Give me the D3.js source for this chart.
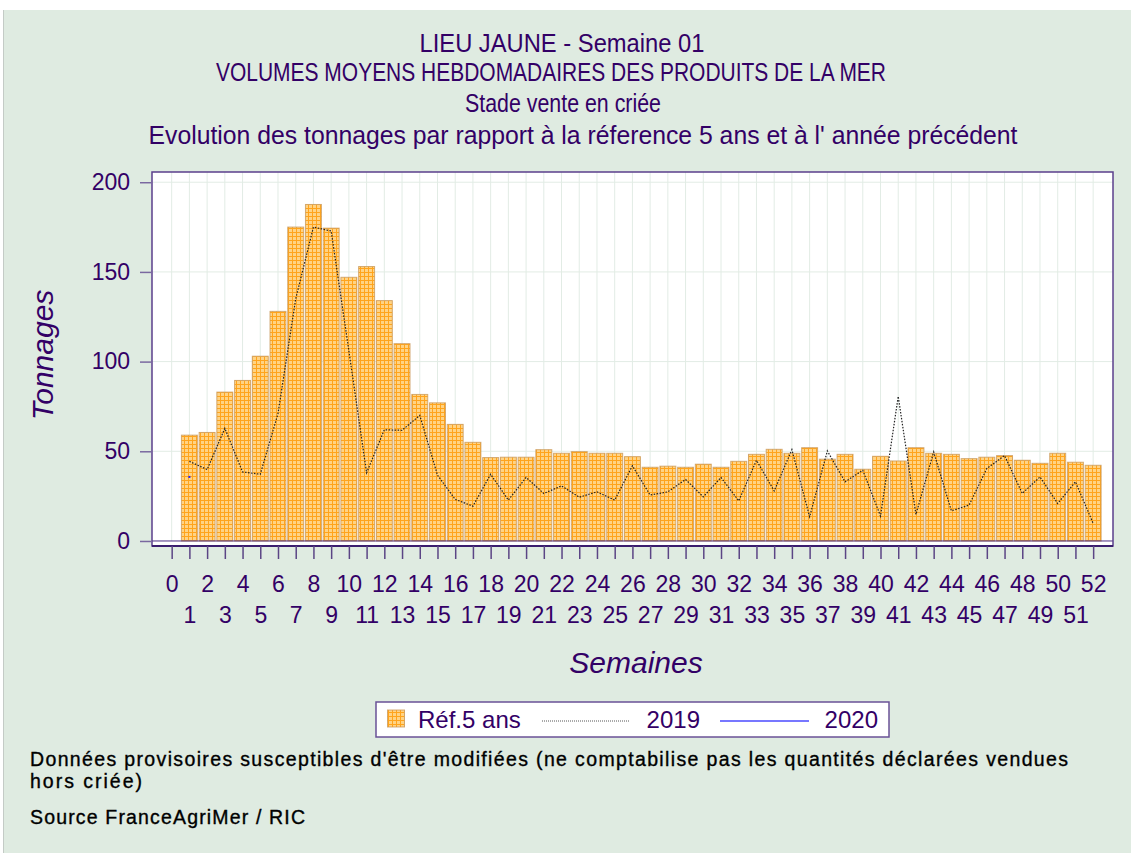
<!DOCTYPE html>
<html lang="fr">
<head>
<meta charset="UTF-8">
<title>Lieu jaune - Semaine 01</title>
<style>
    body { margin: 0; background: #fff; }
    text { font-family: "Liberation Sans", Arial, sans-serif; }
    .title { fill: #330066; font-size: 25px; text-anchor: middle; }
    .axis text { fill: #330066; font-size: 23px; }
    .axis-title { fill: #330066; font-size: 30px; font-style: italic; }
    .legend-text { fill: #330066; font-size: 24px; }
    .note { fill: #000; font-size: 19.5px; stroke: #000; stroke-width: 0.35px; }
</style>
</head>
<body>
<script src="https://d3js.org/d3.v7.min.js"></script>
<script>
    // semaines 1..52
    const weeks = d3.range(1, 53);
    const xTicks = d3.range(0, 53);
    const yTicks = [0, 50, 100, 150, 200];

    // reference 5 ans (barres)
    const ref5 = [59, 60.5, 83, 89.5, 103, 128, 175, 187.6, 174.4, 147,
        153, 134, 110, 81.7, 77, 65, 55, 46.5, 46.7, 46.7,
        50.9, 48.9, 49.8, 48.9, 48.9, 47, 41.1, 41.7, 41.1, 42.8,
        41.1, 44.4, 48.3, 51.1, 48.9, 52, 45.6, 48.3, 40, 47.2,
        44.6, 52, 48.9, 48.3, 45.9, 46.7, 47.6, 45, 43.3, 48.9, 43.9, 42.2];

    // annee 2019 (pointilles)
    const y2019 = [44.4, 39.8, 62.8, 38.5, 37.2, 71, 135, 175, 172.8, 106,
        38, 62, 61.7, 70, 36.7, 23.2, 19.4, 37.2, 22.8, 35.4,
        26.5, 30.7, 24.4, 27.4, 22.8, 41.9, 25.6, 27.4, 34.3, 24.6,
        35.4, 22.4, 45, 27.9, 50.9, 13.5, 50.2, 33, 39.4, 13.9,
        80.6, 14.8, 49.6, 16.8, 20, 40.4, 47.6, 26.5, 35.7, 20.9, 33, 9.8];

    // annee 2020 (une seule semaine)
    const y2020 = [35.7];

    const titles = [
        "LIEU JAUNE - Semaine 01",
        "VOLUMES MOYENS HEBDOMADAIRES DES PRODUITS DE LA MER",
        "Stade vente en criée",
        "Evolution des tonnages par rapport à la réference 5 ans et à l' année précédent"
    ];

    const notes = [
        "Données provisoires susceptibles d'être modifiées (ne comptabilise pas les quantités déclarées vendues",
        "hors criée)",
        "Source FranceAgriMer / RIC"
    ];

    const width = 1131, height = 853;
    const plot = { left: 152, right: 1113, top: 172, bottom: 546 };

    const svg = d3.select("body").append("svg")
        .attr("width", width)
        .attr("height", height);

    // fond
    svg.append("rect")
        .attr("x", 4).attr("y", 10)
        .attr("width", width - 4).attr("height", height - 10)
        .attr("fill", "#dfebe1");
    svg.append("line")
        .attr("x1", 3.5).attr("x2", 3.5).attr("y1", 10).attr("y2", height)
        .attr("stroke", "#c4cbc6");

    // motif quadrille des barres
    const pat = svg.append("defs").append("pattern")
        .attr("id", "grille")
        .attr("patternUnits", "userSpaceOnUse")
        .attr("width", 4).attr("height", 4);
    pat.append("rect").attr("width", 4).attr("height", 4).attr("fill", "#ffd384");
    pat.append("path")
        .attr("d", "M0 0.5H4M0.5 0V4")
        .attr("stroke", "#ffa41c")
        .attr("stroke-width", 1);

    const x = d3.scaleLinear().domain([-1.11, 53.12]).range([plot.left, plot.right]);
    const y = d3.scaleLinear().domain([-2.8, 205.7]).range([plot.bottom, plot.top]);

    // titres
    const titleY = [52, 81, 112, 144];
    const titleX = [562, 551, 563, 583];
    const titleW = [285, 670, 196, 869];
    svg.selectAll(".title")
        .data(titles)
        .enter().append("text")
        .attr("class", "title")
        .attr("x", (d, i) => titleX[i])
        .attr("y", (d, i) => titleY[i])
        .attr("textLength", (d, i) => titleW[i])
        .attr("lengthAdjust", "spacingAndGlyphs")
        .text(d => d);

    // zone de trace
    svg.append("rect")
        .attr("x", plot.left).attr("y", plot.top)
        .attr("width", plot.right - plot.left).attr("height", plot.bottom - plot.top)
        .attr("fill", "#fff");

    // grille
    svg.append("g").selectAll("line")
        .data(xTicks)
        .enter().append("line")
        .attr("x1", d => x(d)).attr("x2", d => x(d))
        .attr("y1", plot.top).attr("y2", y(0))
        .attr("stroke", "#e2ece5");
    svg.append("g").selectAll("line")
        .data(yTicks.slice(1))
        .enter().append("line")
        .attr("x1", plot.left).attr("x2", plot.right)
        .attr("y1", d => y(d)).attr("y2", d => y(d))
        .attr("stroke", "#e2ece5");

    // barres ref 5 ans
    const bw = (x(1) - x(0)) * 0.9;
    svg.append("g").selectAll("rect")
        .data(ref5)
        .enter().append("rect")
        .attr("x", (d, i) => x(weeks[i]) - bw / 2)
        .attr("y", d => y(d))
        .attr("width", bw)
        .attr("height", d => y(0) - y(d))
        .attr("fill", "url(#grille)")
        .attr("stroke", "#c99a5c")
        .attr("stroke-opacity", 0.8)
        .attr("stroke-width", 1);

    // ligne 2019
    const line = d3.line()
        .x((d, i) => x(weeks[i]))
        .y(d => y(d));
    svg.append("path")
        .datum(y2019)
        .attr("d", line)
        .attr("fill", "none")
        .attr("stroke", "#222")
        .attr("stroke-width", 1.2)
        .attr("stroke-dasharray", "1.5,1.5");

    // 2020 : un seul point
    svg.append("g").selectAll("rect")
        .data(y2020)
        .enter().append("rect")
        .attr("x", (d, i) => x(weeks[i]) - 1)
        .attr("y", d => y(d) - 1)
        .attr("width", 2).attr("height", 2)
        .attr("fill", "#2222ff");

    // ligne du zero
    svg.append("line")
        .attr("x1", plot.left).attr("x2", plot.right)
        .attr("y1", y(0)).attr("y2", y(0))
        .attr("stroke", "#4b2e83");

    // cadre
    svg.append("rect")
        .attr("x", plot.left).attr("y", plot.top)
        .attr("width", plot.right - plot.left).attr("height", plot.bottom - plot.top)
        .attr("fill", "none")
        .attr("stroke", "#5b3f8c")
        .attr("stroke-width", 1.5);
    svg.append("line")
        .attr("x1", plot.left).attr("x2", plot.right)
        .attr("y1", plot.bottom).attr("y2", plot.bottom)
        .attr("stroke", "#3a1d6e").attr("stroke-width", 2);

    // axe Y
    const yAxis = svg.append("g")
        .attr("class", "axis")
        .attr("transform", `translate(${plot.left},0)`)
        .call(d3.axisLeft(y).tickValues(yTicks).tickSize(12).tickPadding(10));
    yAxis.select(".domain").remove();
    yAxis.selectAll(".tick line").attr("stroke", "#7a68a0").attr("stroke-width", 1.5);
    yAxis.selectAll("text").style("font-size", "23px");

    // axe X (etiquettes sur deux rangees)
    const xAxis = svg.append("g")
        .attr("class", "axis")
        .attr("transform", `translate(0,${plot.bottom})`)
        .call(d3.axisBottom(x).tickValues(xTicks).tickSize(13).tickFormat(d3.format("d")));
    xAxis.select(".domain").remove();
    xAxis.selectAll(".tick line").attr("stroke", "#5b4585").attr("stroke-width", 1.5);
    xAxis.selectAll(".tick text")
        .attr("y", d => d % 2 === 0 ? 30 : 61)
        .style("font-size", "23px");

    // titres des axes
    svg.append("text")
        .attr("class", "axis-title")
        .attr("x", 636).attr("y", 673)
        .attr("text-anchor", "middle")
        .text("Semaines");
    svg.append("text")
        .attr("class", "axis-title")
        .attr("transform", "translate(53,355) rotate(-90)")
        .attr("text-anchor", "middle")
        .text("Tonnages");

    // legende
    const lg = svg.append("g");
    lg.append("rect")
        .attr("x", 376).attr("y", 702)
        .attr("width", 513).attr("height", 35)
        .attr("fill", "#fff")
        .attr("stroke", "#6a5296").attr("stroke-width", 1.5);
    lg.append("rect")
        .attr("x", 387.5).attr("y", 710)
        .attr("width", 17).attr("height", 17)
        .attr("fill", "url(#grille)")
        .attr("stroke", "#c99a5c").attr("stroke-opacity", 0.8);
    lg.append("text").attr("class", "legend-text")
        .attr("x", 418).attr("y", 728).text("Réf.5 ans");
    lg.append("line")
        .attr("x1", 542).attr("x2", 630).attr("y1", 721).attr("y2", 721)
        .attr("stroke", "#555").attr("stroke-dasharray", "1,1");
    lg.append("text").attr("class", "legend-text")
        .attr("x", 700).attr("y", 728).attr("text-anchor", "end").text("2019");
    lg.append("line")
        .attr("x1", 720).attr("x2", 809).attr("y1", 721).attr("y2", 721)
        .attr("stroke", "#4a4aff").attr("stroke-width", 1.5);
    lg.append("text").attr("class", "legend-text")
        .attr("x", 878).attr("y", 728).attr("text-anchor", "end").text("2020");

    // notes
    const noteY = [766, 788, 824];
    const noteW = [1038, 112, 275];
    svg.selectAll(".note")
        .data(notes)
        .enter().append("text")
        .attr("class", "note")
        .attr("x", 30)
        .attr("y", (d, i) => noteY[i])
        .attr("textLength", (d, i) => noteW[i])
        .attr("lengthAdjust", "spacing")
        .text(d => d);
</script>
</body>
</html>
